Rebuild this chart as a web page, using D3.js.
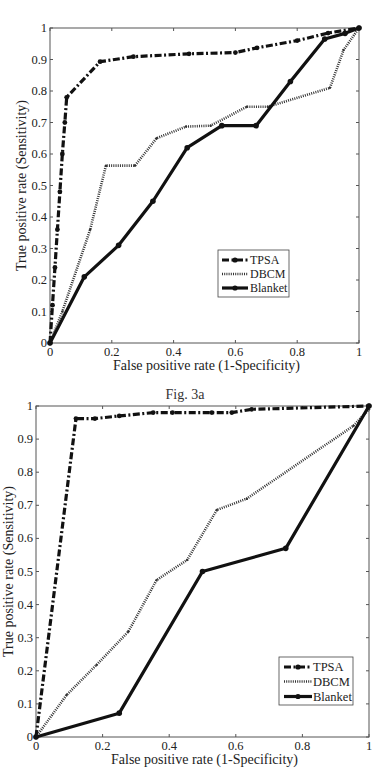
<!DOCTYPE html>
<html><head><meta charset="utf-8">
<script src="https://cdn.jsdelivr.net/npm/d3@7"></script>
<style>body{margin:0;background:#fff}svg{display:block}text{font-family:"Liberation Serif","Times New Roman",serif}</style>
</head><body>
<svg id="c" width="373" height="770"></svg>
<script>
// ---- data ----
const seriesNames = ["TPSA", "DBCM", "Blanket"];
const xTicks = [0, 0.2, 0.4, 0.6, 0.8, 1];
const yTicks = [0, 0.1, 0.2, 0.3, 0.4, 0.5, 0.6, 0.7, 0.8, 0.9, 1];
const xTickLabels = ["0", "0.2", "0.4", "0.6", "0.8", "1"];
const yTickLabels = ["0", "0.1", "0.2", "0.3", "0.4", "0.5", "0.6", "0.7", "0.8", "0.9", "1"];
const xLabel = "False positive rate (1-Specificity)";
const yLabel = "True positive rate (Sensitivity)";
const caption = "Fig. 3a";

// panel A (top)
const aTpsaX = [0, 0.008, 0.016, 0.024, 0.032, 0.04, 0.048, 0.054, 0.162, 0.27, 0.45, 0.6, 0.67, 0.8, 0.9, 1];
const aTpsaY = [0, 0.12, 0.24, 0.36, 0.48, 0.6, 0.7, 0.78, 0.893, 0.909, 0.918, 0.922, 0.937, 0.96, 0.984, 1];
const aDbcmX = [0, 0.04, 0.13, 0.181, 0.275, 0.345, 0.44, 0.52, 0.637, 0.705, 0.906, 0.95, 1];
const aDbcmY = [0, 0.1, 0.36, 0.563, 0.563, 0.65, 0.687, 0.69, 0.75, 0.75, 0.81, 0.93, 1];
const aBlankX = [0, 0.111, 0.222, 0.333, 0.444, 0.556, 0.667, 0.778, 0.889, 0.955, 1];
const aBlankY = [0, 0.21, 0.31, 0.45, 0.62, 0.69, 0.69, 0.83, 0.965, 0.983, 1];

// panel B (bottom)
const bTpsaX = [0, 0.12, 0.177, 0.25, 0.352, 0.41, 0.528, 0.588, 0.648, 1];
const bTpsaY = [0, 0.962, 0.962, 0.97, 0.98, 0.98, 0.98, 0.98, 0.99, 1];
const bDbcmX = [0, 0.092, 0.182, 0.277, 0.362, 0.454, 0.543, 0.633, 0.953, 1];
const bDbcmY = [0, 0.127, 0.218, 0.318, 0.474, 0.535, 0.686, 0.72, 0.94, 0.99];
const bBlankX = [0, 0.25, 0.5, 0.75, 1];
const bBlankY = [0, 0.072, 0.5, 0.57, 1];

const zip = (xs, ys) => xs.map((x, i) => ({x, y: ys[i]}));

const panels = [
  {left: 50, right: 359, top: 28, bottom: 343, ylabX: 22, xlabY: 370, tickY: 356,
   series: [zip(aTpsaX, aTpsaY), zip(aDbcmX, aDbcmY), zip(aBlankX, aBlankY)],
   legend: {x: 218, y: 250, w: 71, h: 47, lineX0: 222, lineX1: 248, textX: 250, rowY: [260, 274, 288]}, fs: 10.5},
  {left: 36, right: 369, top: 406, bottom: 737, ylabX: 9, xlabY: 764, tickY: 750,
   series: [zip(bTpsaX, bTpsaY), zip(bDbcmX, bDbcmY), zip(bBlankX, bBlankY)],
   legend: {x: 279, y: 657, w: 74, h: 48, lineX0: 284, lineX1: 312, textX: 313, rowY: [667, 681.5, 696.5]}, fs: 11}
];

const styles = [
  {width: 3.2, dash: "7,2.5,2,2.5", color: "#111", marker: "sq"},
  {width: 2.6, dash: "1,1.2", color: "#333", marker: "dot"},
  {width: 3.2, dash: null, color: "#111", marker: "circ"}
];

const svg = d3.select("#c");

panels.forEach((p, pi) => {
  const x = d3.scaleLinear().domain([0, 1]).range([p.left, p.right]);
  const y = d3.scaleLinear().domain([0, 1]).range([p.bottom, p.top]);
  const g = svg.append("g");

  g.append("rect").attr("x", p.left).attr("y", p.top)
    .attr("width", p.right - p.left).attr("height", p.bottom - p.top)
    .attr("fill", "none").attr("stroke", "#555").attr("stroke-width", 1);

  const tl = 3;
  xTicks.forEach(t => {
    g.append("line").attr("x1", x(t)).attr("x2", x(t)).attr("y1", p.bottom).attr("y2", p.bottom - tl).attr("stroke", "#555");
    g.append("line").attr("x1", x(t)).attr("x2", x(t)).attr("y1", p.top).attr("y2", p.top + tl).attr("stroke", "#555");
  });
  yTicks.forEach(t => {
    g.append("line").attr("y1", y(t)).attr("y2", y(t)).attr("x1", p.left).attr("x2", p.left + tl).attr("stroke", "#555");
    g.append("line").attr("y1", y(t)).attr("y2", y(t)).attr("x1", p.right).attr("x2", p.right - tl).attr("stroke", "#555");
  });

  g.selectAll(".xt").data(xTicks).enter().append("text")
    .attr("x", d => x(d)).attr("y", p.tickY).attr("text-anchor", "middle")
    .attr("font-size", 12.5).attr("fill", "#222").text((d, i) => xTickLabels[i]);
  g.selectAll(".yt").data(yTicks).enter().append("text")
    .attr("x", p.left - 3).attr("y", d => y(d) + 4).attr("text-anchor", "end")
    .attr("font-size", 12.5).attr("fill", "#222").text((d, i) => yTickLabels[i]);

  g.append("text").attr("x", (p.left + p.right) / 2 + 2).attr("y", p.xlabY).attr("text-anchor", "middle")
    .attr("font-size", 14).attr("fill", "#222").text(xLabel);
  g.append("text").attr("transform", `translate(${p.ylabX + 4},${(p.top + p.bottom) / 2}) rotate(-90)`)
    .attr("text-anchor", "middle").attr("font-size", 14).attr("fill", "#222").text(yLabel);

  const line = d3.line().x(d => x(d.x)).y(d => y(d.y));
  p.series.forEach((data, si) => {
    const st = styles[si];
    const path = g.append("path").datum(data).attr("d", line).attr("fill", "none")
      .attr("stroke", st.color).attr("stroke-width", st.width).attr("stroke-linejoin", "round");
    if (st.dash) path.attr("stroke-dasharray", st.dash);
    const mk = g.selectAll(null).data(data).enter();
    if (st.marker === "circ") {
      mk.append("circle").attr("cx", d => x(d.x)).attr("cy", d => y(d.y)).attr("r", 2.8).attr("fill", "#111");
    } else if (st.marker === "sq") {
      mk.append("circle").attr("cx", d => x(d.x)).attr("cy", d => y(d.y)).attr("r", 2.4).attr("fill", "#111");
    } else {
      mk.append("circle").attr("cx", d => x(d.x)).attr("cy", d => y(d.y)).attr("r", 1.2).attr("fill", "#333");
    }
  });

  const L = p.legend;
  g.append("rect").attr("x", L.x).attr("y", L.y).attr("width", L.w).attr("height", L.h)
    .attr("fill", "#fff").attr("stroke", "#444").attr("stroke-width", 0.8);
  seriesNames.forEach((name, si) => {
    const st = styles[si];
    const ly = L.rowY[si];
    const ln = g.append("line").attr("x1", L.lineX0).attr("x2", L.lineX1).attr("y1", ly).attr("y2", ly)
      .attr("stroke", st.color).attr("stroke-width", st.width);
    if (st.dash) ln.attr("stroke-dasharray", st.dash);
    if (st.marker !== "dot") {
      g.append("circle").attr("cx", (L.lineX0 + L.lineX1) / 2).attr("cy", ly).attr("r", 2.6).attr("fill", "#111");
    }
    g.append("text").attr("x", L.textX).attr("y", ly + 4).attr("font-size", p.fs + 1.5).attr("fill", "#222").text(name);
  });
});

svg.append("text").attr("x", 185).attr("y", 399).attr("text-anchor", "middle")
  .attr("font-size", 14).attr("fill", "#333").text(caption);
</script>
</body></html>
